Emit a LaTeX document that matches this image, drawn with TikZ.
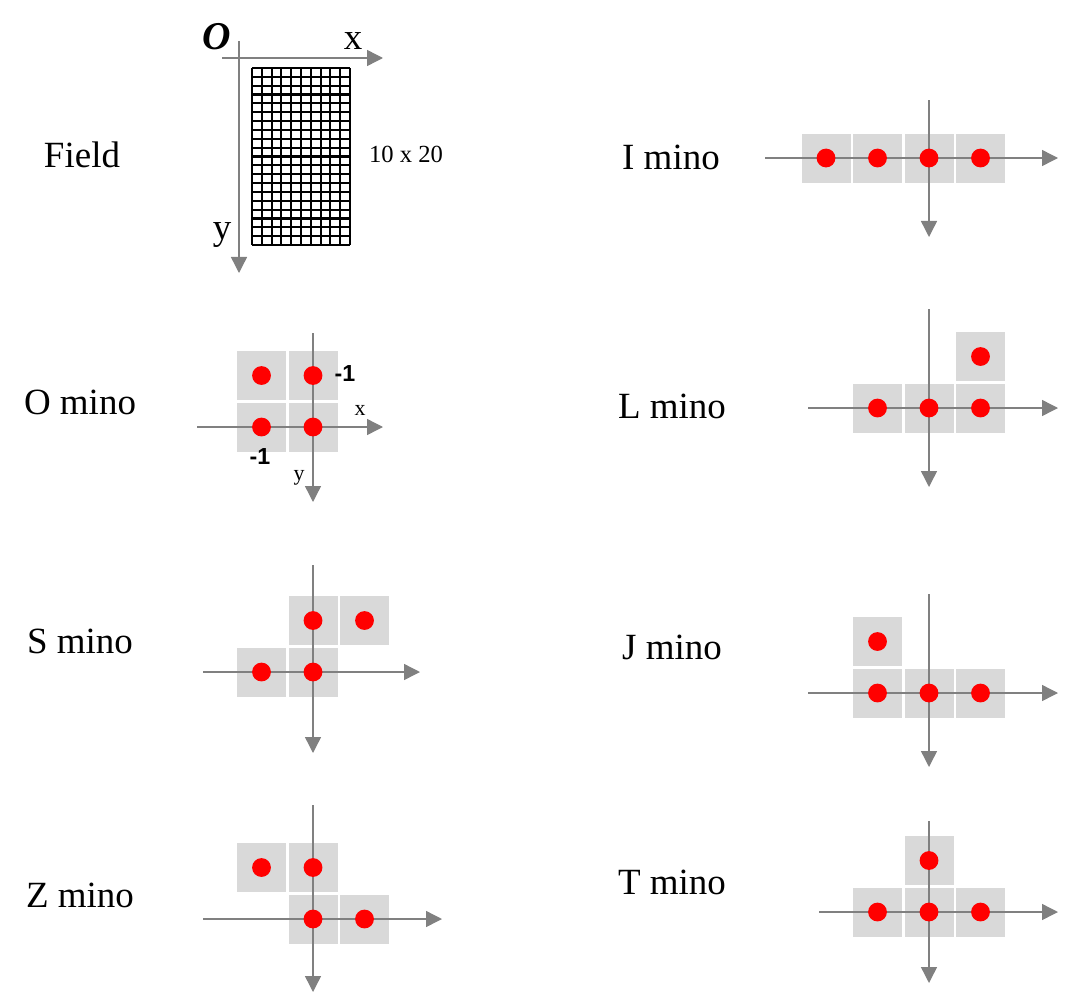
\documentclass[tikz,border=0pt]{standalone}
\usepackage{fontspec}
\setmainfont{Liberation Serif}
\newfontfamily\labelsans{Liberation Sans}
\usetikzlibrary{arrows.meta,positioning,calc}

\definecolor{axisgray}{HTML}{808080}
\definecolor{cellgray}{HTML}{D9D9D9}
\definecolor{dotred}{HTML}{FF0000}

\begin{document}
\begin{tikzpicture}[x=0.025cm, y=-0.025cm,
    axis/.style={draw=axisgray, line width=1pt, -{Triangle[length=0.4cm, width=0.4cm]}},
    cellbox/.style={fill=cellgray, draw=none},
    dot/.style={circle, fill=dotred, draw=none, inner sep=0pt, minimum size=0.47cm},
    gridline/.style={draw=black, line width=1.5pt},
    minoname/.style={inner sep=0pt, font=\fontsize{26.3}{30}\selectfont},
    axisname/.style={inner sep=0pt, font=\fontsize{15.6}{18}\selectfont},
    tick/.style={inner sep=0pt, font=\labelsans\bfseries\fontsize{16.5}{19}\selectfont}
]
    \useasboundingbox (0,0) rectangle (1072,1006);

    % Field (10 x 20)
    \foreach \k in {0,...,10}
        \draw[gridline] ({252+\k*9.8},68) -- ++(0,177);
    \foreach \k in {0,...,20}
        \draw[gridline] (252,{68+\k*8.85}) -- ++(98,0);
    \coordinate (fo) at (239,58);
    \coordinate (fx) at (383,58);
    \coordinate (fy) at (239,273);
    \draw[axis] (fo) ++(-17,0) -- (fx);
    \draw[axis] (fo) ++(0,-17) -- (fy);
    \node[inner sep=0pt, font=\bfseries\itshape\fontsize{28}{30}\selectfont] (orig) at (217,37) {O};
    \node[minoname] (fxname) at (353,41) {x};
    \node[minoname] (fyname) at (222,235) {y};
    \node[inner sep=0pt, font=\fontsize{17.5}{20}\selectfont] (size) at (406,154) {10 x 20};
    \node[minoname] (field) at (82,155) {Field};

    % Minos: origin, axis extents, cells
    \foreach \nm/\ox/\oy/\xl/\xr/\yt/\yb/\cells in {
        I/929/158/-164/129/-58/79/{-2/0,-1/0,0/0,1/0},
        O/313/427/-116/70/-94/75/{-1/-1,0/-1,-1/0,0/0},
        L/929/408/-121/129/-99/79/{-1/0,0/0,1/0,1/-1},
        S/313/672/-110/107/-107/81/{0/-1,1/-1,-1/0,0/0},
        J/929/693/-121/129/-99/74/{-1/-1,-1/0,0/0,1/0},
        Z/313/919/-110/129/-114/73/{-1/-1,0/-1,0/0,1/0},
        T/929/912/-110/129/-91/71/{0/-1,-1/0,0/0,1/0}}{
        \coordinate (\nm o) at (\ox,\oy);
        \foreach \i/\j in \cells
            \fill[cellbox] ({\ox+\i*51.5-24.5},{\oy+\j*51.5-24.5}) rectangle +(49,49);
        \draw[axis] ($(\nm o)+(\xl,0)$) -- ($(\nm o)+(\xr,0)$);
        \draw[axis] ($(\nm o)+(0,\yt)$) -- ($(\nm o)+(0,\yb)$);
        \foreach \i/\j [count=\k] in \cells
            \node[dot] (\nm dot\k) at ({\ox+\i*51.5},{\oy+\j*51.5}) {};
    }

    % O mino axis labels
    \node[tick] (oneup) at (345,374) {-1};
    \node[tick] (onedown) at (260,457) {-1};
    \node[axisname] (oxname) at (360,410) {x};
    \node[axisname] (oyname) at (299,478) {y};

    % Names
    \node[minoname] (iname) at (671,157) {I mino};
    \node[minoname] (oname) at (80,402) {O mino};
    \node[minoname] (lname) at (672,406) {L mino};
    \node[minoname] (sname) at (80,641) {S mino};
    \node[minoname] (jname) at (672,647) {J mino};
    \node[minoname] (zname) at (80,895) {Z mino};
    \node[minoname] (tname) at (672,882) {T mino};

\end{tikzpicture}
\end{document}
